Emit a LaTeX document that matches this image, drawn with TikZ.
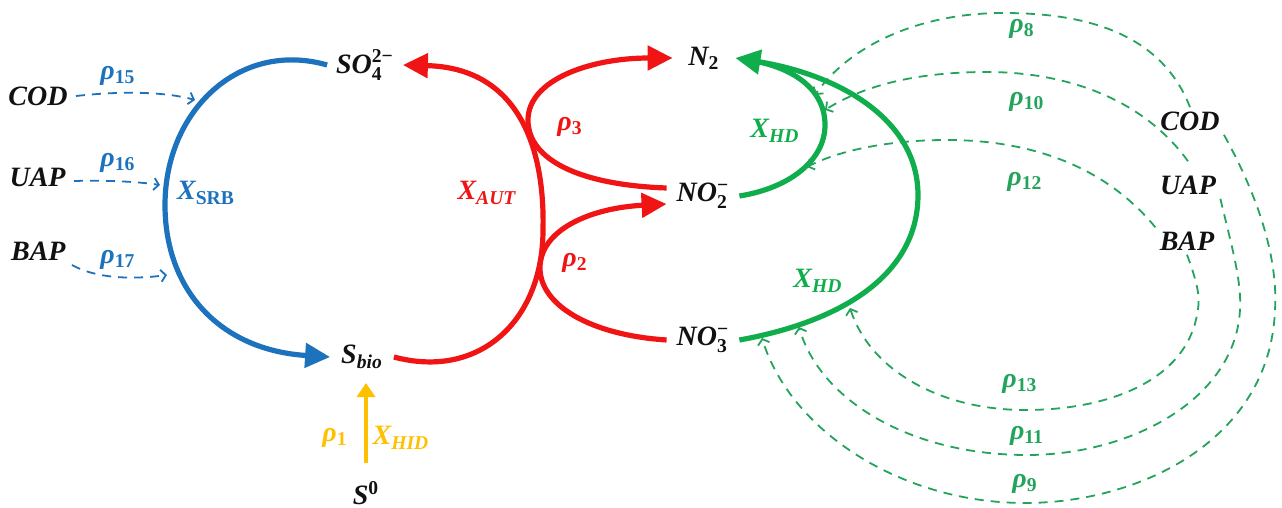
\documentclass[tikz,border=0pt]{standalone}
\usepackage{amsmath}
\usepackage{fontspec}
\setmainfont{Liberation Serif}
\usetikzlibrary{arrows.meta}
\definecolor{ink}{HTML}{111111}
\definecolor{srb}{HTML}{1C72BC}
\definecolor{aut}{HTML}{F01414}
\definecolor{hd}{HTML}{10AD4C}
\definecolor{hdd}{HTML}{23A35C}
\definecolor{hid}{HTML}{FFC000}
\newcommand\lo[1]{$_{\text{#1}}$}
\newcommand\hilo[2]{$_{\text{#1}}^{\text{#2}}$}
\tikzset{
  sp/.style={font=\fontsize{14}{16}\selectfont\bfseries\itshape, text=ink, inner sep=2pt},
  rate/.style={font=\fontsize{14}{16}\selectfont\bfseries\itshape, inner sep=1pt},
  big/.style={line width=2.6pt, -{Triangle[length=12.5pt,width=12pt]}},
  plain/.style={line width=2.6pt},
  feed/.style={line width=0.9pt, dash pattern=on 4.5pt off 3.5pt,
               -{Straight Barb[length=2.5pt,width=6pt]}},
}

\begin{document}
\begin{tikzpicture}[x=0.5pt, y=-0.5pt]
\useasboundingbox (0,0) rectangle (1282,508);

% --- species ------------------------------------------------------------
\node[sp, minimum width=37.5pt] (so4) at (365,65) {SO\hilo{\upshape 4}{\upshape 2−}};
\node[sp, minimum width=31.5pt] (sbio) at (362,357) {S\lo{bio}};
\node[sp] (s0) at (366,493) {S$^{\text{\upshape 0}}$};
\node[sp, minimum width=31pt] (n2) at (704,58) {N\lo{\upshape 2}};
\node[sp, minimum width=36pt] (no2) at (703,196) {NO\hilo{\upshape 2}{\upshape −}};
\node[sp, minimum width=36pt] (no3) at (703,340) {NO\hilo{\upshape 3}{\upshape −}};
\node[sp, anchor=east] (codl) at (72,96) {COD};
\node[sp, anchor=east] (uapl) at (70,177) {UAP};
\node[sp, anchor=east] (bapl) at (70,251) {BAP};
\node[sp] (codr) at (1190,121) {COD};
\node[sp] (uapr) at (1188,185) {UAP};
\node[sp] (bapr) at (1187,241) {BAP};

% --- SRB loop -----------------------------------------------------------
\draw[big, srb] (so4.west) .. controls (240,40) and (165,110) .. (165,205)
  .. controls (165,290) and (220,350) .. (sbio.west);
\node[rate, text=srb] (xsrb) at (206,193) {X\lo{\upshape SRB}};
\coordinate (e15) at (195,100);
\coordinate (e16) at (160,185);
\coordinate (e17) at (167,275);
\draw[feed, srb] ([xshift=2pt]codl.east) .. controls (130,90) and (170,93) .. (e15);
\draw[feed, srb] ([xshift=2pt,yshift=-2pt]uapl.east) .. controls (110,180) and (140,182) .. (e16);
\draw[feed, srb] ([xshift=1pt,yshift=-7pt]bapl.east) .. controls (95,278) and (130,280) .. (e17);
\node[rate, text=srb] (r15) at (118,76) {ρ\lo{\upshape 15}};
\node[rate, text=srb] (r16) at (118,163) {ρ\lo{\upshape 16}};
\node[rate, text=srb] (r17) at (118,260) {ρ\lo{\upshape 17}};

% --- autotrophs ---------------------------------------------------------
\draw[big, aut] (sbio.east) .. controls (480,380) and (543,320) .. (543,230)
  .. controls (545,150) and (520,68) .. (so4.east);
\draw[big, aut] ([yshift=4pt]no2.west) .. controls (580,185) and (528,160) .. (528,120)
  .. controls (528,80) and (590,58) .. (n2.west);
\draw[big, aut] (no3.west) .. controls (590,335) and (540,305) .. (540,268)
  .. controls (540,230) and (590,208) .. ([yshift=-4pt]no2.west);
\node[rate, text=aut] (xaut) at (487,193) {X\lo{AUT}};
\node[rate, text=aut] (r3) at (570,127) {ρ\lo{\upshape 3}};
\node[rate, text=aut] (r2) at (575,263) {ρ\lo{\upshape 2}};

% --- sulphur oxidation --------------------------------------------------
\draw[line width=2pt, hid, -{Triangle[length=7pt,width=9pt]}]
  ([yshift=15pt]s0.center) -- ([xshift=2pt,yshift=-13pt]sbio.center);
\node[rate, text=hid] (r1) at (335,438) {ρ\lo{\upshape 1}};
\node[rate, text=hid] (xhid) at (401,438) {X\lo{HID}};

% --- heterotrophic denitrification -------------------------------------
\draw[plain, hd] (no2.east) .. controls (790,188) and (825,160) .. (825,125)
  .. controls (825,90) and (795,70) .. ([xshift=12pt,yshift=-2pt]n2.east);
\draw[big, hd] (no3.east) .. controls (850,320) and (918,270) .. (918,195)
  .. controls (918,120) and (840,75) .. (n2.east);
\node[rate, text=hd] (xhd2) at (775,131) {X\lo{HD}};
\node[rate, text=hd] (xhd3) at (818,281) {X\lo{HD}};

\coordinate (e8) at (815,95);
\coordinate (e10) at (825,110);
\coordinate (e12) at (807,167);
\coordinate (e9) at (762,338);
\coordinate (e11) at (799,327);
\coordinate (e13) at (850,308);
\draw[feed, hdd] (codr.north) .. controls (1160,30) and (1080,13) .. (1003,13)
  .. controls (920,13) and (850,45) .. (e8);
\draw[feed, hdd] ([yshift=5pt]uapr.north) .. controls (1140,95) and (1060,72) .. (987,72)
  .. controls (910,72) and (860,88) .. (e10);
\draw[feed, hdd] (bapr.north west) .. controls (1100,160) and (1020,140) .. (947,140)
  .. controls (890,140) and (840,150) .. (e12);
\draw[feed, hdd] (codr.south east) .. controls (1260,200) and (1278,260) .. (1275,310)
  .. controls (1270,440) and (1140,503) .. (1025,503)
  .. controls (900,503) and (790,430) .. (e9);
\draw[feed, hdd] (uapr.south east) .. controls (1230,240) and (1242,280) .. (1240,310)
  .. controls (1235,400) and (1130,455) .. (1027,455)
  .. controls (910,455) and (820,400) .. (e11);
\draw[feed, hdd] (bapr.south) .. controls (1200,290) and (1200,300) .. (1197,315)
  .. controls (1185,380) and (1110,410) .. (1025,410)
  .. controls (940,410) and (870,370) .. (e13);
\node[rate, text=hdd] (r8) at (1022,29) {ρ\lo{\upshape 8}};
\node[rate, text=hdd] (r10) at (1027,102) {ρ\lo{\upshape 10}};
\node[rate, text=hdd] (r12) at (1025,182) {ρ\lo{\upshape 12}};
\node[rate, text=hdd] (r13) at (1020,384) {ρ\lo{\upshape 13}};
\node[rate, text=hdd] (r11) at (1027,436) {ρ\lo{\upshape 11}};
\node[rate, text=hdd] (r9) at (1025,484) {ρ\lo{\upshape 9}};
\end{tikzpicture}
\end{document}
